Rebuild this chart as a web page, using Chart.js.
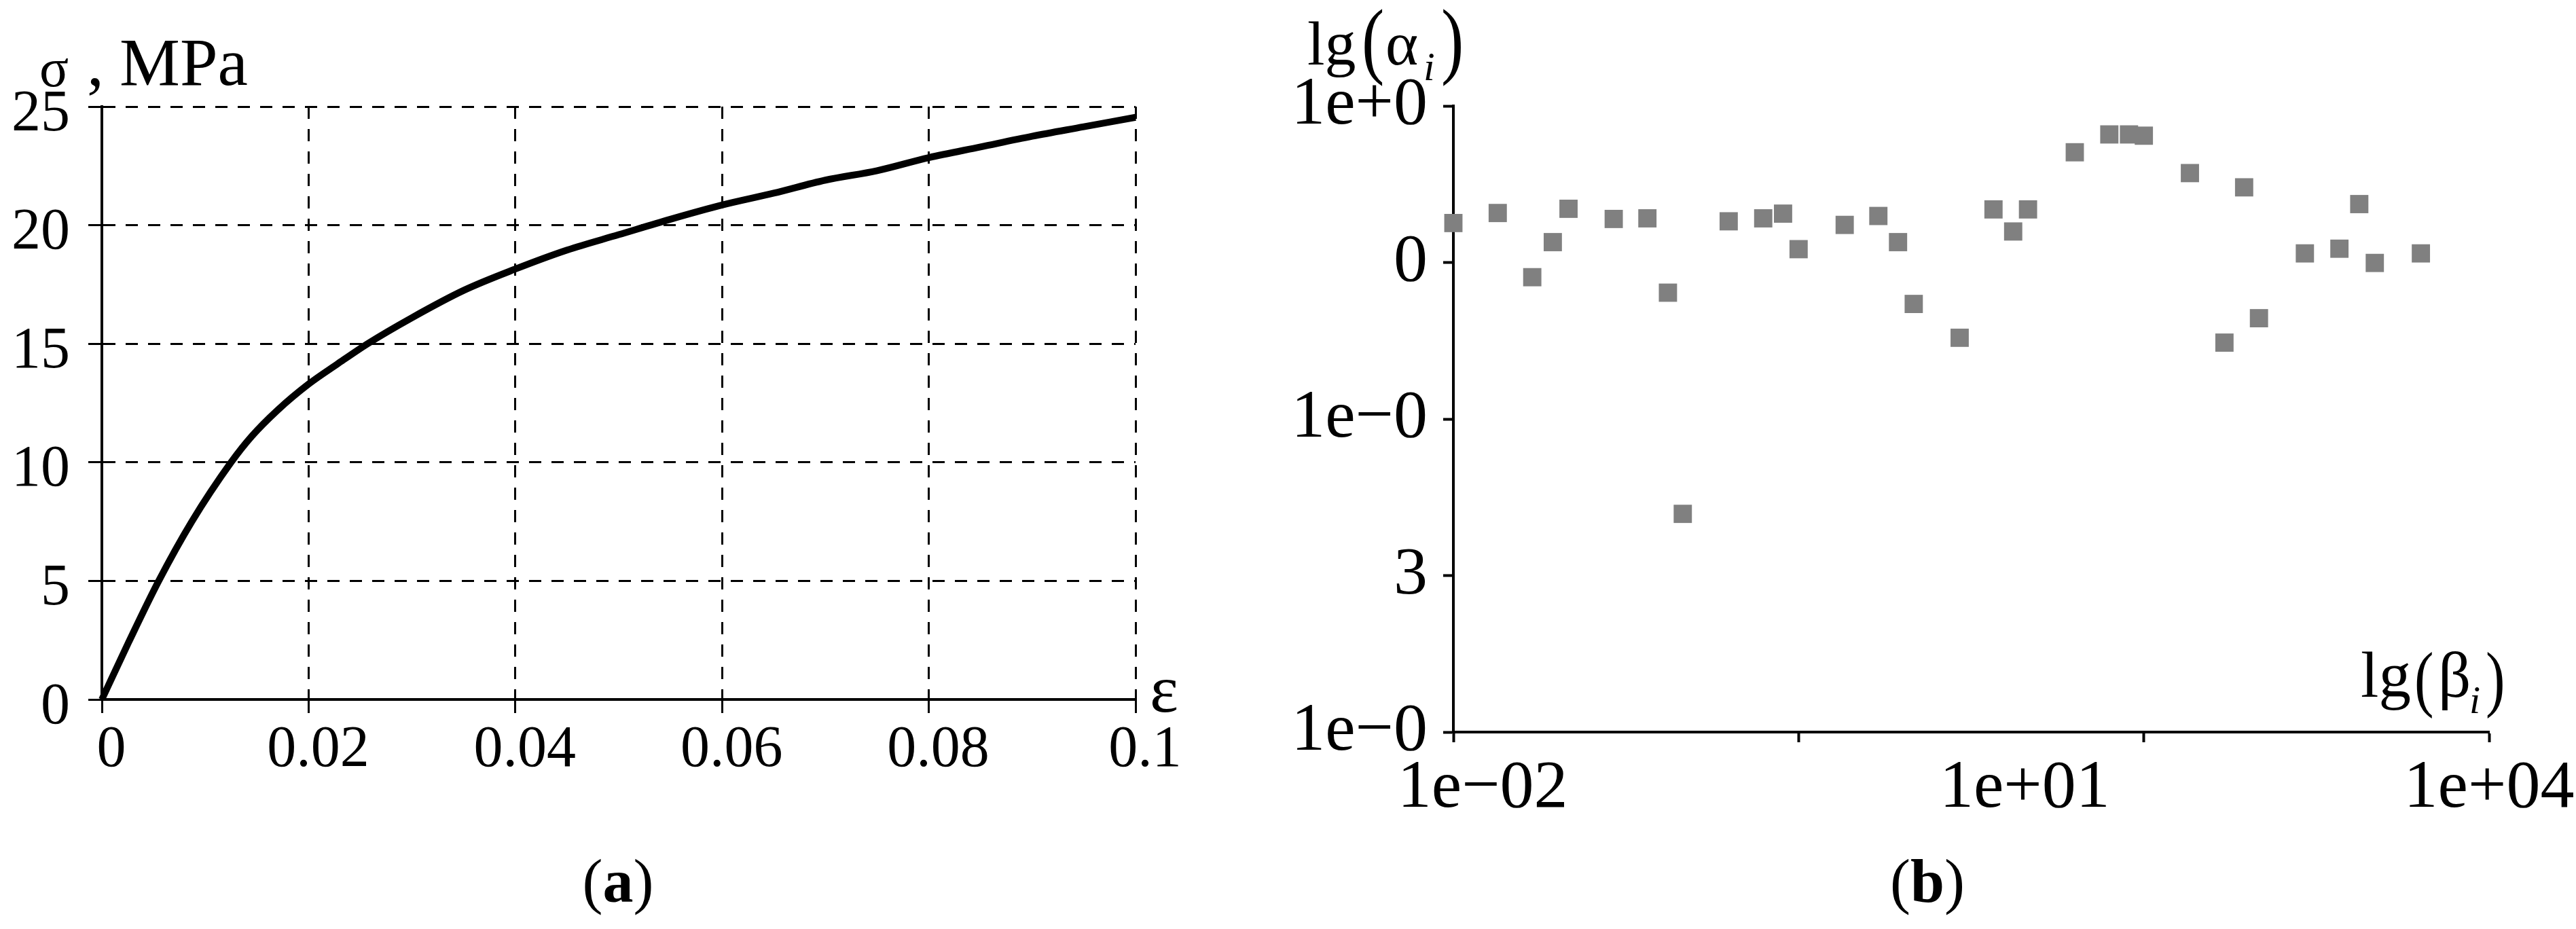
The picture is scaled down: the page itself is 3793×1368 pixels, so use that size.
<!DOCTYPE html>
<html>
<head>
<meta charset="utf-8">
<script src="https://cdn.jsdelivr.net/npm/chart.js@4.4.0/dist/chart.umd.min.js"></script>
<style>
  html, body { margin: 0; padding: 0; background: #fff; }
  body { width: 3793px; height: 1368px; position: relative; overflow: hidden; }
  canvas { position: absolute; top: 0; }
  #chart-a { left: 0; }
  #chart-b { left: 1800px; }
</style>
</head>
<body>
<canvas id="chart-a" width="1800" height="1368"></canvas>
<canvas id="chart-b" width="1993" height="1368"></canvas>
<script>
// ==== DATA: (a) stress-strain curve ====
const strain = [0, 0.0026, 0.0055, 0.0087, 0.0125, 0.0145, 0.017, 0.02, 0.0228, 0.0257,
  0.03, 0.035, 0.04, 0.045, 0.05, 0.055, 0.06, 0.065, 0.07, 0.075, 0.08, 0.085, 0.09, 0.095, 0.1];
const stress = [0, 2.42, 5, 7.5, 10, 11.1, 12.2, 13.3, 14.15, 15.0,
  16.1, 17.25, 18.15, 18.95, 19.6, 20.25, 20.85, 21.35, 21.9, 22.3, 22.85, 23.3, 23.75, 24.15, 24.55];
const strainTicks = [0, 0.02, 0.04, 0.06, 0.08, 0.1];
const strainTickText = ["0", "0.02", "0.04", "0.06", "0.08", "0.1"];
const stressTicks = [0, 5, 10, 15, 20, 25];
const stressTickText = ["0", "5", "10", "15", "20", "25"];

// ==== DATA: (b) lg(alpha) vs lg(beta) ====
const betaLg = [-2.0, -1.743, -1.543, -1.424, -1.333, -1.071, -0.876, -0.757, -0.671,
  -0.405, -0.205, -0.090, 0.0, 0.267, 0.462, 0.576, 0.667, 0.933, 1.129, 1.243, 1.329,
  1.6, 1.8, 1.914, 2.0, 2.267, 2.467, 2.581, 2.667, 2.933, 3.133, 3.248, 3.338, 3.605];
const alphaLg = [3.252, 3.316, 2.906, 3.130, 3.343, 3.278, 3.282, 2.807, 1.394,
  3.263, 3.282, 3.312, 3.085, 3.240, 3.297, 3.130, 2.735, 2.519, 3.339, 3.198, 3.339,
  3.704, 3.818, 3.818, 3.810, 3.571, 2.488, 3.480, 2.644, 3.058, 3.088, 3.373, 2.997, 3.058];
const betaMarkTicks = [-2, 0, 2, 4];             // tick marks on the x axis
const betaLabelTicks = [-1.83, 1.31, 4];         // where the x labels sit
const betaLabelText = ["1e\u221202", "1e+01", "1e+04"];
const alphaTicks = [0, 1, 2, 3, 4];
const alphaTickText = ["1e\u22120", "3", "1e\u22120", "0", "1e+0"];

const SERIF = '"Liberation Serif", "Times New Roman", serif';
const font = (size, style) => (style ? style + " " : "") + size + "px " + SERIF;

// ==== free text (axis titles, captions) ====
const freeText = {
  id: "freeText",
  afterDraw(chart, args, opts) {
    const ctx = chart.ctx;
    ctx.save();
    ctx.fillStyle = "#000";
    ctx.textBaseline = "alphabetic";
    (opts.items || []).forEach(it => {
      ctx.font = it.font;
      ctx.save();
      ctx.translate(it.x, it.y);
      ctx.scale(it.sx || 1, 1);
      ctx.fillText(it.t, 0, 0);
      ctx.restore();
    });
    (opts.captions || []).forEach(c => {
      let total = 0;
      const w = c.parts.map(p => { ctx.font = p.font; const m = ctx.measureText(p.t).width; total += m; return m; });
      let x = c.x - total / 2;
      c.parts.forEach((p, i) => { ctx.font = p.font; ctx.fillText(p.t, x, c.y); x += w[i]; });
    });
    ctx.restore();
  }
};

const caption = (letter, x) => ({
  x: x, y: 1328,
  parts: [
    { t: "(", font: font(90) },
    { t: letter, font: font(90, "bold") },
    { t: ")", font: font(90) }
  ]
});

// ==== Chart (a) ====
new Chart(document.getElementById("chart-a"), {
  type: "scatter",
  data: {
    datasets: [{
      data: strain.map((x, i) => ({ x: x, y: stress[i] })),
      showLine: true,
      borderColor: "#000",
      borderWidth: 10,
      pointRadius: 0,
      cubicInterpolationMode: "monotone",
      clip: false
    }]
  },
  options: {
    responsive: false,
    animation: false,
    devicePixelRatio: 1,
    events: [],
    layout: { autoPadding: false, padding: { left: 0, top: 157, right: 128, bottom: 0 } },
    plugins: {
      legend: { display: false },
      tooltip: { enabled: false },
      freeText: {
        items: [
          { t: "\u03c3", x: 58, y: 127, font: font(80) },
          { t: ",", x: 128, y: 125, font: font(100) },
          { t: "MPa", x: 176, y: 125, font: font(100) },
          { t: "\u03b5", x: 1693, y: 1048, font: font(100) }
        ],
        captions: [caption("a", 910)]
      }
    },
    scales: {
      x: {
        type: "linear", min: 0, max: 0.1,
        afterBuildTicks: s => { s.ticks = strainTicks.map(v => ({ value: v })); },
        afterFit: s => { s.height = 338; s.paddingLeft = 0; s.paddingRight = 0; },
        ticks: {
          autoSkip: false, maxRotation: 0, minRotation: 0,
          padding: 4, labelOffset: 14, color: "#000",
          font: { family: SERIF, size: 86 },
          callback: (v, i) => strainTickText[i]
        },
        grid: { color: "#000", lineWidth: 3, tickLength: 20, tickWidth: 3, tickColor: "#000" },
        border: { display: true, color: "#000", width: 4, dash: [18, 15] }
      },
      y: {
        type: "linear", min: 0, max: 25,
        afterBuildTicks: s => { s.ticks = stressTicks.map(v => ({ value: v })); },
        afterFit: s => { s.width = 150; s.paddingTop = 0; s.paddingBottom = 0; },
        ticks: {
          autoSkip: false, padding: 27, labelOffset: 12, color: "#000",
          font: { family: SERIF, size: 86 },
          callback: (v, i) => stressTickText[i]
        },
        grid: { color: "#000", lineWidth: 3, tickLength: 20, tickWidth: 3, tickColor: "#000" },
        border: { display: true, color: "#000", width: 4, dash: [18, 15] }
      }
    }
  },
  plugins: [freeText]
});

// ==== Chart (b) ====
const betaAllTicks = [...new Set([...betaMarkTicks, ...betaLabelTicks])].sort((a, b) => a - b);

new Chart(document.getElementById("chart-b"), {
  type: "scatter",
  data: {
    datasets: [{
      data: betaLg.map((x, i) => ({ x: x, y: alphaLg[i] })),
      pointStyle: "rect",
      pointRadius: 19,
      pointHoverRadius: 19,
      backgroundColor: "#808080",
      borderWidth: 0,
      clip: false
    }]
  },
  options: {
    responsive: false,
    animation: false,
    devicePixelRatio: 1,
    events: [],
    layout: { autoPadding: false, padding: { left: 0, top: 156, right: 128, bottom: 0 } },
    plugins: {
      legend: { display: false },
      tooltip: { enabled: false },
      freeText: {
        items: [
          { t: "lg", x: 125, y: 95, font: font(92) },
          { t: "(", x: 205, y: 100, font: font(125), sx: 0.8 },
          { t: "\u03b1", x: 240, y: 95, font: font(92) },
          { t: "i", x: 296, y: 118, font: font(60, "italic") },
          { t: ")", x: 322, y: 100, font: font(125), sx: 0.8 },
          { t: "lg", x: 1676, y: 1026, font: font(95) },
          { t: "(", x: 1755, y: 1035, font: font(107), sx: 0.8 },
          { t: "\u03b2", x: 1790, y: 1026, font: font(95) },
          { t: "i", x: 1836, y: 1050, font: font(58, "italic") },
          { t: ")", x: 1860, y: 1035, font: font(107), sx: 0.8 }
        ],
        captions: [caption("b", 1038)]
      }
    },
    scales: {
      x: {
        type: "linear", min: -2, max: 4,
        afterBuildTicks: s => { s.ticks = betaAllTicks.map(v => ({ value: v })); },
        afterFit: s => { s.height = 290; s.paddingLeft = 0; s.paddingRight = 0; },
        ticks: {
          autoSkip: false, maxRotation: 0, minRotation: 0,
          padding: 9, color: "#000",
          font: { family: SERIF, size: 100 },
          callback: v => {
            const k = betaLabelTicks.indexOf(v);
            return k < 0 ? "" : betaLabelText[k];
          }
        },
        grid: {
          drawOnChartArea: false, tickLength: 15, tickWidth: 4,
          tickColor: c => (c.tick && betaMarkTicks.includes(c.tick.value)) ? "#000" : "rgba(0,0,0,0)"
        },
        border: { display: true, color: "#000", width: 4 }
      },
      y: {
        type: "linear", min: 0, max: 4,
        afterBuildTicks: s => { s.ticks = alphaTicks.map(v => ({ value: v })); },
        afterFit: s => { s.width = 340; s.paddingTop = 0; s.paddingBottom = 0; },
        ticks: {
          autoSkip: false, padding: 23, color: "#000",
          font: { family: SERIF, size: 100 },
          callback: (v, i) => alphaTickText[i]
        },
        grid: { drawOnChartArea: false, tickLength: 15, tickWidth: 4, tickColor: "#000" },
        border: { display: true, color: "#000", width: 4 }
      }
    }
  },
  plugins: [freeText]
});
</script>
</body>
</html>
